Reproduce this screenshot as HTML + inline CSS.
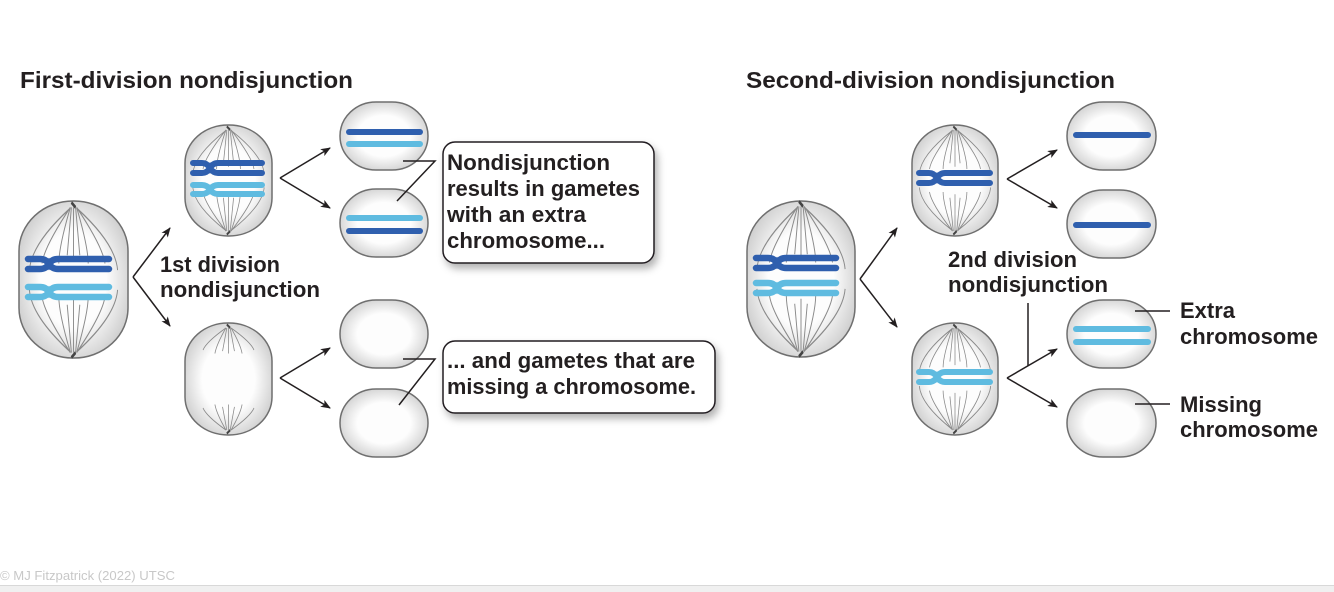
<!DOCTYPE html>
<html><head><meta charset="utf-8"><style>
html,body{margin:0;padding:0;background:#fff;}
svg{display:block;}
text{font-family:"Liberation Sans",sans-serif;font-weight:bold;fill:#231f20;}
</style></head><body>
<svg width="1334" height="592" viewBox="0 0 1334 592" xmlns="http://www.w3.org/2000/svg">
<defs>
<radialGradient id="cg" cx="0.5" cy="0.5" r="0.55">
<stop offset="0.55" stop-color="#fdfdfd"/><stop offset="1" stop-color="#cfcfcf"/>
</radialGradient>
<filter id="sh" x="-10%" y="-10%" width="130%" height="140%"><feDropShadow dx="3" dy="5" stdDeviation="4" flood-color="#000" flood-opacity="0.3"/></filter>
<marker id="ah" markerWidth="10" markerHeight="8" refX="9" refY="4" orient="auto" markerUnits="userSpaceOnUse">
<path d="M0,0 L10,4 L0,8 L2.5,4 Z" fill="#231f20"/></marker>
<g id="sp" fill="none" stroke="#8a8a8a" stroke-width="0.9">
<path d="M-3,-44 Q-14,-20 -14,-10 M3,-44 Q14,-20 14,-10 M-3,-44 Q-28,-20 -30,-10 M3,-44 Q28,-20 30,-10 M-4,-43 Q-40,-22 -42,-6 M4,-43 Q40,-22 42,-6 M0,-44 L0,-12 M-2,-44 L-6,-15 M2,-44 L6,-15"/>
<path d="M-3,44 Q-14,20 -14,10 M3,44 Q14,20 14,10 M-3,44 Q-28,20 -30,10 M3,44 Q28,20 30,10 M-4,43 Q-40,22 -42,6 M4,43 Q40,22 42,6 M0,44 L0,12 M-2,44 L-6,15 M2,44 L6,15"/>
<path d="M-2,-47 L2,-44 M-2,47 L2,44" stroke="#444" stroke-width="2"/>
</g>
<g id="spe" fill="none" stroke="#8a8a8a" stroke-width="0.9">
<path d="M-3,-44 Q-14,-30 -16,-22 M3,-44 Q14,-30 16,-22 M-3,-44 Q-26,-32 -30,-25 M3,-44 Q26,-32 30,-25 M0,-44 L0,-22 M-2,-44 L-7,-24 M2,-44 L7,-24"/>
<path d="M-3,44 Q-14,30 -16,22 M3,44 Q14,30 16,22 M-3,44 Q-26,32 -30,25 M3,44 Q26,32 30,25 M0,44 L0,22 M-2,44 L-7,24 M2,44 L7,24"/>
<path d="M-2,-47 L2,-44 M-2,47 L2,44" stroke="#444" stroke-width="2"/>
</g>
</defs>

<text x="20" y="88" font-size="23" textLength="333" lengthAdjust="spacingAndGlyphs">First-division nondisjunction</text>
<text x="746" y="88" font-size="23" textLength="369" lengthAdjust="spacingAndGlyphs">Second-division nondisjunction</text>

<!-- LEFT -->
<rect x="19" y="201" width="109" height="157" rx="54" ry="50" fill="url(#cg)" stroke="#6f6f6f" stroke-width="1.5"/>
<use href="#sp" transform="translate(73.5,280) scale(1.05,1.65)"/>
<g fill="none" stroke-linecap="round" stroke-width="6.5">
<g stroke="#2f5fae"><path d="M28,259 L40,259 Q46,259 49,264 Q52,259 58,259 L109,259"/><path d="M28,269 L40,269 Q46,269 49,264 Q52,269 58,269 L109,269"/></g>
<g stroke="#5fbbe0"><path d="M28,287 L40,287 Q46,287 49,292 Q52,287 58,287 L109,287"/><path d="M28,297 L40,297 Q46,297 49,292 Q52,297 58,297 L109,297"/></g>
</g>
<g stroke="#231f20" stroke-width="1.5" fill="none">
<path d="M133,277 L170,228" marker-end="url(#ah)"/><path d="M133,277 L170,326" marker-end="url(#ah)"/>
<path d="M280,178 L330,148" marker-end="url(#ah)"/><path d="M280,178 L330,208" marker-end="url(#ah)"/>
<path d="M280,378 L330,348" marker-end="url(#ah)"/><path d="M280,378 L330,408" marker-end="url(#ah)"/>
</g>
<rect x="185" y="125" width="87" height="111" rx="43" ry="38" fill="url(#cg)" stroke="#6f6f6f" stroke-width="1.5"/>
<use href="#sp" transform="translate(228.5,180.5) scale(0.85,1.15)"/>
<g fill="none" stroke-linecap="round" stroke-width="6">
<g stroke="#2f5fae"><path d="M193,163 L202,163 Q207,163 210,168 Q213,163 218,163 L262,163"/><path d="M193,173 L202,173 Q207,173 210,168 Q213,173 218,173 L262,173"/></g>
<g stroke="#5fbbe0"><path d="M193,185 L202,185 Q207,185 210,189.5 Q213,185 218,185 L262,185"/><path d="M193,194 L202,194 Q207,194 210,189.5 Q213,194 218,194 L262,194"/></g>
</g>
<rect x="185" y="323" width="87" height="112" rx="43" ry="38" fill="url(#cg)" stroke="#6f6f6f" stroke-width="1.5"/>
<use href="#spe" transform="translate(228.5,379) scale(0.85,1.16)"/>
<rect x="340" y="102" width="88" height="68" rx="36" ry="34" fill="url(#cg)" stroke="#6f6f6f" stroke-width="1.5"/>
<rect x="340" y="189" width="88" height="68" rx="36" ry="34" fill="url(#cg)" stroke="#6f6f6f" stroke-width="1.5"/>
<rect x="340" y="300" width="88" height="68" rx="36" ry="34" fill="url(#cg)" stroke="#6f6f6f" stroke-width="1.5"/>
<rect x="340" y="389" width="88" height="68" rx="36" ry="34" fill="url(#cg)" stroke="#6f6f6f" stroke-width="1.5"/>
<g stroke-linecap="round" stroke-width="6">
<line x1="349" y1="132" x2="420" y2="132" stroke="#2f5fae"/><line x1="349" y1="144" x2="420" y2="144" stroke="#5fbbe0"/>
<line x1="349" y1="218" x2="420" y2="218" stroke="#5fbbe0"/><line x1="349" y1="231" x2="420" y2="231" stroke="#2f5fae"/>
</g>
<rect x="443" y="142" width="211" height="121" rx="12" fill="#fff" stroke="#231f20" stroke-width="1.5" filter="url(#sh)"/>
<rect x="443" y="341" width="272" height="72" rx="12" fill="#fff" stroke="#231f20" stroke-width="1.5" filter="url(#sh)"/>
<polyline points="403,161 435,161 397,201" fill="none" stroke="#231f20" stroke-width="1.5"/>
<polyline points="403,359 435,359 399,405" fill="none" stroke="#231f20" stroke-width="1.5"/>
<g font-size="22">
<text x="447" y="170" textLength="163" lengthAdjust="spacingAndGlyphs">Nondisjunction</text>
<text x="447" y="196" textLength="193" lengthAdjust="spacingAndGlyphs">results in gametes</text>
<text x="447" y="222" textLength="139" lengthAdjust="spacingAndGlyphs">with an extra</text>
<text x="447" y="248" textLength="158" lengthAdjust="spacingAndGlyphs">chromosome...</text>
<text x="447" y="368" textLength="248" lengthAdjust="spacingAndGlyphs">... and gametes that are</text>
<text x="447" y="394" textLength="249" lengthAdjust="spacingAndGlyphs">missing a chromosome.</text>
<text x="160" y="272" textLength="120" lengthAdjust="spacingAndGlyphs">1st division</text>
<text x="160" y="297" textLength="160" lengthAdjust="spacingAndGlyphs">nondisjunction</text>
</g>

<!-- RIGHT -->
<rect x="747" y="201" width="108" height="156" rx="54" ry="50" fill="url(#cg)" stroke="#6f6f6f" stroke-width="1.5"/>
<use href="#sp" transform="translate(801,279) scale(1.05,1.65)"/>
<g fill="none" stroke-linecap="round" stroke-width="6.5">
<g stroke="#2f5fae"><path d="M756,258 L768,258 Q774,258 777,263 Q780,258 786,258 L836,258"/><path d="M756,268 L768,268 Q774,268 777,263 Q780,268 786,268 L836,268"/></g>
<g stroke="#5fbbe0"><path d="M756,283 L768,283 Q774,283 777,288 Q780,283 786,283 L836,283"/><path d="M756,293 L768,293 Q774,293 777,288 Q780,293 786,293 L836,293"/></g>
</g>
<g stroke="#231f20" stroke-width="1.5" fill="none">
<path d="M860,279 L897,228" marker-end="url(#ah)"/><path d="M860,279 L897,327" marker-end="url(#ah)"/>
<path d="M1007,179 L1057,150" marker-end="url(#ah)"/><path d="M1007,179 L1057,208" marker-end="url(#ah)"/>
<path d="M1007,378 L1057,349" marker-end="url(#ah)"/><path d="M1007,378 L1057,407" marker-end="url(#ah)"/>
<path d="M1028,303 L1028,366"/>
</g>
<rect x="912" y="125" width="86" height="111" rx="43" ry="38" fill="url(#cg)" stroke="#6f6f6f" stroke-width="1.5"/>
<use href="#sp" transform="translate(955,180.5) scale(0.85,1.15)"/>
<rect x="912" y="323" width="86" height="112" rx="43" ry="38" fill="url(#cg)" stroke="#6f6f6f" stroke-width="1.5"/>
<use href="#sp" transform="translate(955,379) scale(0.85,1.16)"/>
<g fill="none" stroke-linecap="round" stroke-width="6">
<g stroke="#2f5fae"><path d="M919,173 L929,173 Q934,173 937,178 Q940,173 945,173 L990,173"/><path d="M919,183 L929,183 Q934,183 937,178 Q940,183 945,183 L990,183"/></g>
<g stroke="#5fbbe0"><path d="M919,372 L929,372 Q934,372 937,377 Q940,372 945,372 L990,372"/><path d="M919,382 L929,382 Q934,382 937,377 Q940,382 945,382 L990,382"/></g>
</g>
<rect x="1067" y="102" width="89" height="68" rx="36" ry="34" fill="url(#cg)" stroke="#6f6f6f" stroke-width="1.5"/>
<rect x="1067" y="190" width="89" height="68" rx="36" ry="34" fill="url(#cg)" stroke="#6f6f6f" stroke-width="1.5"/>
<rect x="1067" y="300" width="89" height="68" rx="36" ry="34" fill="url(#cg)" stroke="#6f6f6f" stroke-width="1.5"/>
<rect x="1067" y="389" width="89" height="68" rx="36" ry="34" fill="url(#cg)" stroke="#6f6f6f" stroke-width="1.5"/>
<g stroke-linecap="round" stroke-width="6">
<line x1="1076" y1="135" x2="1148" y2="135" stroke="#2f5fae"/>
<line x1="1076" y1="225" x2="1148" y2="225" stroke="#2f5fae"/>
<line x1="1076" y1="329" x2="1148" y2="329" stroke="#5fbbe0"/>
<line x1="1076" y1="342" x2="1148" y2="342" stroke="#5fbbe0"/>
</g>
<path d="M1135,311 L1170,311 M1135,404 L1170,404" stroke="#231f20" stroke-width="1.5"/>
<g font-size="22">
<text x="948" y="267" textLength="129" lengthAdjust="spacingAndGlyphs">2nd division</text>
<text x="948" y="292" textLength="160" lengthAdjust="spacingAndGlyphs">nondisjunction</text>
<text x="1180" y="318" textLength="55" lengthAdjust="spacingAndGlyphs">Extra</text>
<text x="1180" y="344" textLength="138" lengthAdjust="spacingAndGlyphs">chromosome</text>
<text x="1180" y="412" textLength="82" lengthAdjust="spacingAndGlyphs">Missing</text>
<text x="1180" y="437" textLength="138" lengthAdjust="spacingAndGlyphs">chromosome</text>
</g>

<text x="0" y="580" font-size="13" style="font-weight:normal;fill:#c8c8c8" textLength="175" lengthAdjust="spacingAndGlyphs">© MJ Fitzpatrick (2022) UTSC</text>
<line x1="0" y1="585.5" x2="1334" y2="585.5" stroke="#d8d8d8" stroke-width="1"/>
<rect x="0" y="586" width="1334" height="6" fill="#f0f0f0"/>
</svg>
</body></html>
